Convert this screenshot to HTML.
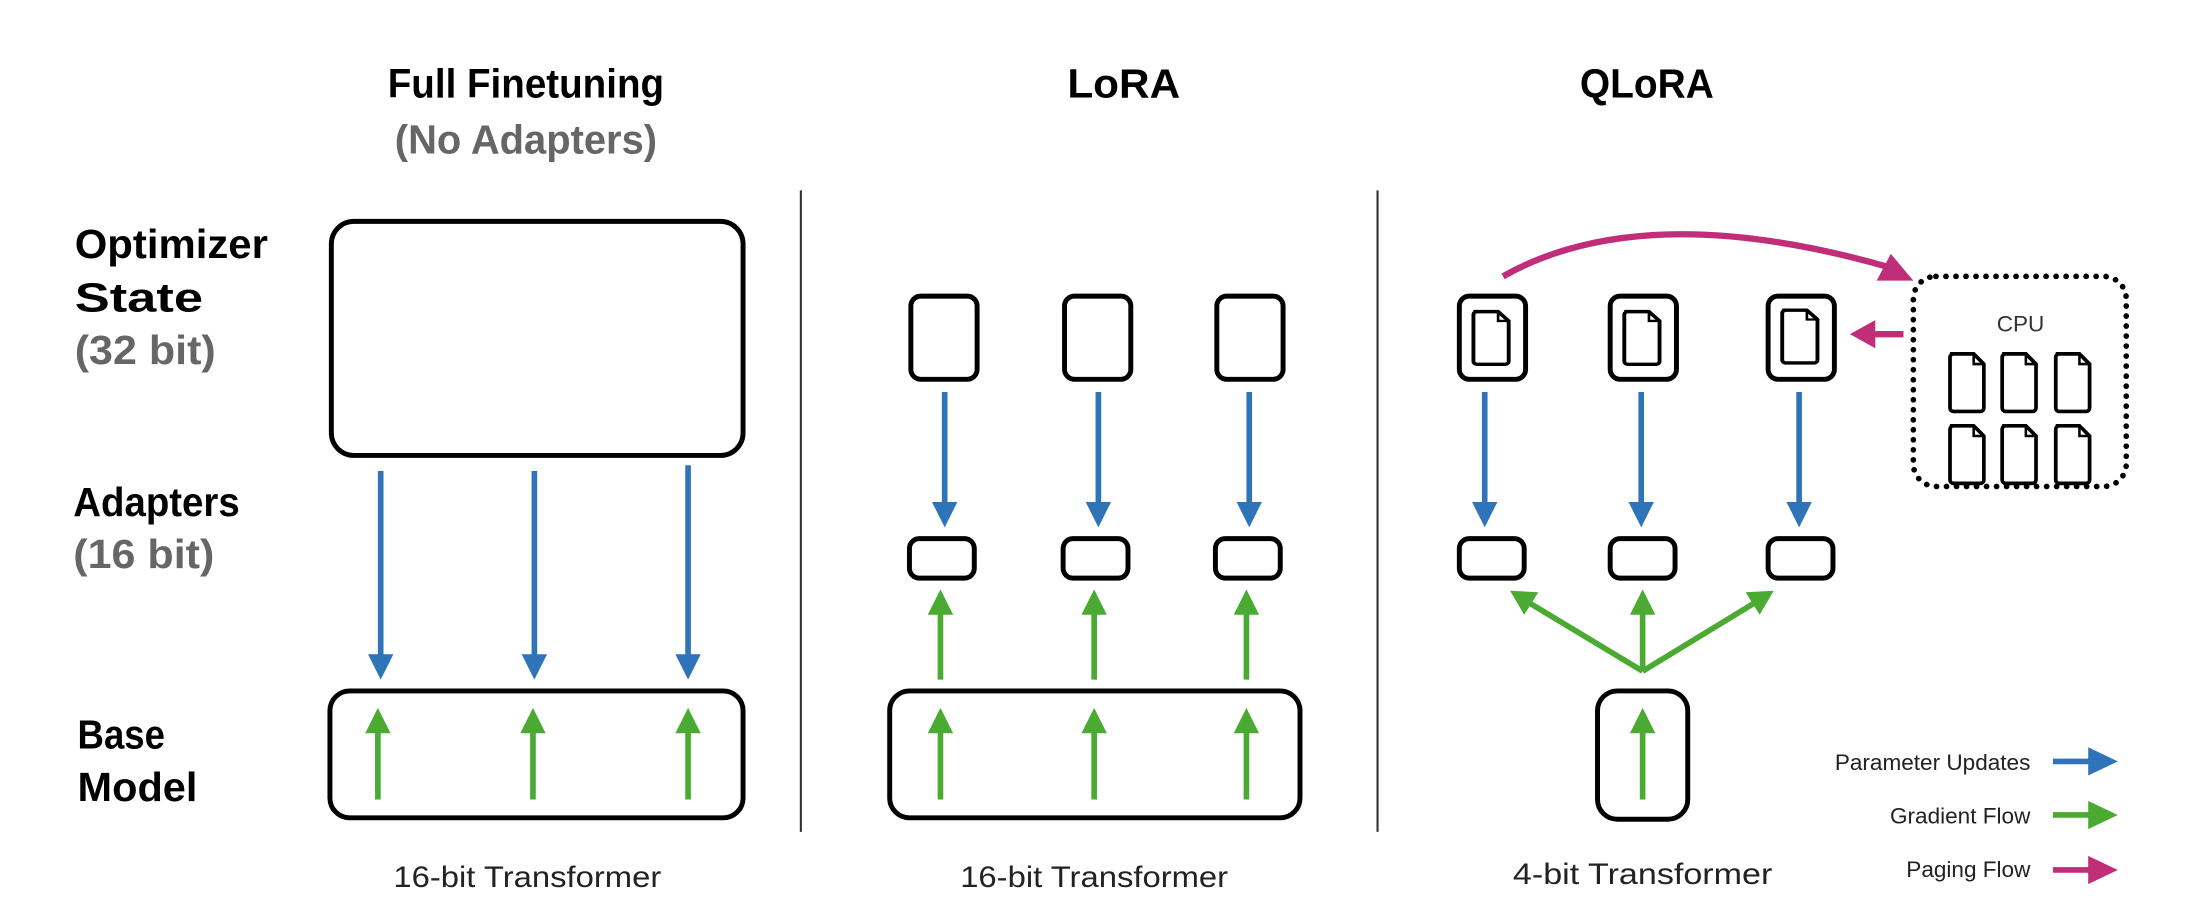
<!DOCTYPE html>
<html><head><meta charset="utf-8"><style>
html,body{margin:0;padding:0;background:#fff;}
svg{display:block;}
text{font-family:"Liberation Sans",sans-serif;}
</style></head><body>
<svg width="2210" height="912" viewBox="0 0 1567.4 646.8" preserveAspectRatio="none" xmlns="http://www.w3.org/2000/svg">
<defs>
<g id="doc"><path d="M0,0 H14 L20,6 V32 a2,2 0 0 1 -2,2 H2 a2,2 0 0 1 -2,-2 V2 a2,2 0 0 1 2,-2 Z" fill="#fff" stroke="#000" stroke-width="2.2"/><path d="M14,0 V6 H20" fill="none" stroke="#000" stroke-width="1.5"/></g>
</defs>
<!-- titles -->
<g font-weight="bold" font-size="29" text-anchor="middle">
<text x="373" y="69" textLength="196" lengthAdjust="spacingAndGlyphs">Full Finetuning</text>
<text x="373" y="109" fill="#666" textLength="186" lengthAdjust="spacingAndGlyphs">(No Adapters)</text>
<text x="797" y="69" textLength="80" lengthAdjust="spacingAndGlyphs">LoRA</text>
<text x="1168" y="69" textLength="95" lengthAdjust="spacingAndGlyphs">QLoRA</text>
</g>
<!-- left labels -->
<g font-weight="bold" font-size="29">
<text x="53" y="183" textLength="137" lengthAdjust="spacingAndGlyphs">Optimizer</text>
<text x="53" y="221" textLength="91" lengthAdjust="spacingAndGlyphs">State</text>
<text x="53" y="258" fill="#666" textLength="100" lengthAdjust="spacingAndGlyphs">(32 bit)</text>
<text x="52" y="366" textLength="118" lengthAdjust="spacingAndGlyphs">Adapters</text>
<text x="52" y="403" fill="#666" textLength="100" lengthAdjust="spacingAndGlyphs">(16 bit)</text>
<text x="55" y="531" textLength="62" lengthAdjust="spacingAndGlyphs">Base</text>
<text x="55" y="568" textLength="85" lengthAdjust="spacingAndGlyphs">Model</text>
</g>
<!-- bottom labels -->
<g font-size="21" text-anchor="middle" fill="#222">
<text x="374" y="629" textLength="190" lengthAdjust="spacingAndGlyphs">16-bit Transformer</text>
<text x="776" y="629" textLength="190" lengthAdjust="spacingAndGlyphs">16-bit Transformer</text>
<text x="1165" y="627" textLength="184" lengthAdjust="spacingAndGlyphs">4-bit Transformer</text>
</g>
<!-- dividers -->
<line x1="568" y1="135" x2="568" y2="590" stroke="#333" stroke-width="1.5"/>
<line x1="977" y1="135" x2="977" y2="590" stroke="#333" stroke-width="1.5"/>

<g fill="none" stroke="#000" stroke-width="3.5">
<rect x="235" y="157" width="292" height="166" rx="16"/>
<rect x="234" y="490" width="293" height="90" rx="14"/>
<rect x="646" y="210" width="47" height="59" rx="7"/>
<rect x="755" y="210" width="47" height="59" rx="7"/>
<rect x="863" y="210" width="47" height="59" rx="7"/>
<rect x="645" y="382" width="46" height="28" rx="7"/>
<rect x="754" y="382" width="46" height="28" rx="7"/>
<rect x="862" y="382" width="46" height="28" rx="7"/>
<rect x="631" y="490" width="291" height="90" rx="14"/>
<rect x="1035" y="210" width="47" height="59" rx="7"/>
<rect x="1142" y="210" width="47" height="59" rx="7"/>
<rect x="1254" y="210" width="47" height="59" rx="7"/>
<rect x="1035" y="382" width="46" height="28" rx="7"/>
<rect x="1142" y="382" width="46" height="28" rx="7"/>
<rect x="1254" y="382" width="46" height="28" rx="7"/>
<rect x="1133" y="490" width="64" height="91" rx="14"/>
</g>
<rect x="1357" y="196" width="151" height="149" rx="16" fill="none" stroke="#000" stroke-width="4" stroke-dasharray="0.1 7" stroke-linecap="round"/>
<text x="1433" y="235" font-size="16" text-anchor="middle" fill="#333">CPU</text>
<!-- docs -->
<g transform="translate(1045,221) scale(1.25,1.1)"><use href="#doc"/></g>
<g transform="translate(1152,221) scale(1.25,1.1)"><use href="#doc"/></g>
<g transform="translate(1264,220) scale(1.25,1.1)"><use href="#doc"/></g>
<g transform="translate(1383,251) scale(1.2)"><use href="#doc"/></g>
<g transform="translate(1420,251) scale(1.2)"><use href="#doc"/></g>
<g transform="translate(1458,251) scale(1.2)"><use href="#doc"/></g>
<g transform="translate(1383,302) scale(1.2)"><use href="#doc"/></g>
<g transform="translate(1420,302) scale(1.2)"><use href="#doc"/></g>
<g transform="translate(1458,302) scale(1.2)"><use href="#doc"/></g>

<!-- blue arrows -->
<g stroke="#2f74b9" stroke-width="4">
<line x1="270" y1="334" x2="270" y2="468"/><line x1="379" y1="334" x2="379" y2="468"/><line x1="488" y1="330" x2="488" y2="468"/>
<line x1="670" y1="278" x2="670" y2="360"/><line x1="779" y1="278" x2="779" y2="360"/><line x1="886" y1="278" x2="886" y2="360"/>
<line x1="1053" y1="278" x2="1053" y2="360"/><line x1="1164" y1="278" x2="1164" y2="360"/><line x1="1276" y1="278" x2="1276" y2="360"/>
<line x1="1456" y1="540" x2="1484" y2="540"/>
</g>
<g fill="#2f74b9">
<polygon points="261,464 279,464 270,482"/><polygon points="370,464 388,464 379,482"/><polygon points="479,464 497,464 488,482"/>
<polygon points="661,356 679,356 670,374"/><polygon points="770,356 788,356 779,374"/><polygon points="877,356 895,356 886,374"/>
<polygon points="1044,356 1062,356 1053,374"/><polygon points="1155,356 1173,356 1164,374"/><polygon points="1267,356 1285,356 1276,374"/>
<polygon points="1481,530 1481,550 1502,540"/>
</g>
<!-- green arrows -->
<g stroke="#4aaa32" stroke-width="4">
<line x1="268" y1="567" x2="268" y2="512"/><line x1="378" y1="567" x2="378" y2="512"/><line x1="488" y1="567" x2="488" y2="512"/>
<line x1="667" y1="567" x2="667" y2="512"/><line x1="776" y1="567" x2="776" y2="512"/><line x1="884" y1="567" x2="884" y2="512"/>
<line x1="667" y1="482" x2="667" y2="428"/><line x1="776" y1="482" x2="776" y2="428"/><line x1="884" y1="482" x2="884" y2="428"/>
<line x1="1165" y1="567" x2="1165" y2="512"/>
<line x1="1165" y1="476" x2="1165" y2="428"/>
<line x1="1165" y1="476" x2="1082" y2="426"/>
<line x1="1165" y1="476" x2="1247" y2="426"/>
<line x1="1456" y1="578" x2="1484" y2="578"/>
</g>
<g fill="#4aaa32">
<polygon points="259,520 277,520 268,502"/><polygon points="369,520 387,520 378,502"/><polygon points="479,520 497,520 488,502"/>
<polygon points="658,520 676,520 667,502"/><polygon points="767,520 785,520 776,502"/><polygon points="875,520 893,520 884,502"/>
<polygon points="658,436 676,436 667,418"/><polygon points="767,436 785,436 776,418"/><polygon points="875,436 893,436 884,418"/>
<polygon points="1156,520 1174,520 1165,502"/>
<polygon points="1156,436 1174,436 1165,418"/>
<polygon points="1071,419 1091,420 1081,436"/>
<polygon points="1258,419 1238,420 1248,436"/>
<polygon points="1481,568 1481,588 1502,578"/>
</g>
<!-- pink -->
<path d="M1066,196 Q1165,140 1338,189" fill="none" stroke="#c02d78" stroke-width="4.5"/>
<polygon points="1357,199 1331,199 1341,180" fill="#c02d78"/>
<line x1="1350" y1="237" x2="1326" y2="237" stroke="#c02d78" stroke-width="4.5"/>
<polygon points="1312,237 1330,227 1330,247" fill="#c02d78"/>
<line x1="1456" y1="617" x2="1484" y2="617" stroke="#c02d78" stroke-width="4"/>
<polygon points="1481,607 1481,627 1502,617" fill="#c02d78"/>
<!-- legend -->
<g font-size="16" text-anchor="end" fill="#222">
<text x="1440" y="546">Parameter Updates</text>
<text x="1440" y="584">Gradient Flow</text>
<text x="1440" y="622">Paging Flow</text>
</g>
</svg>
</body></html>
